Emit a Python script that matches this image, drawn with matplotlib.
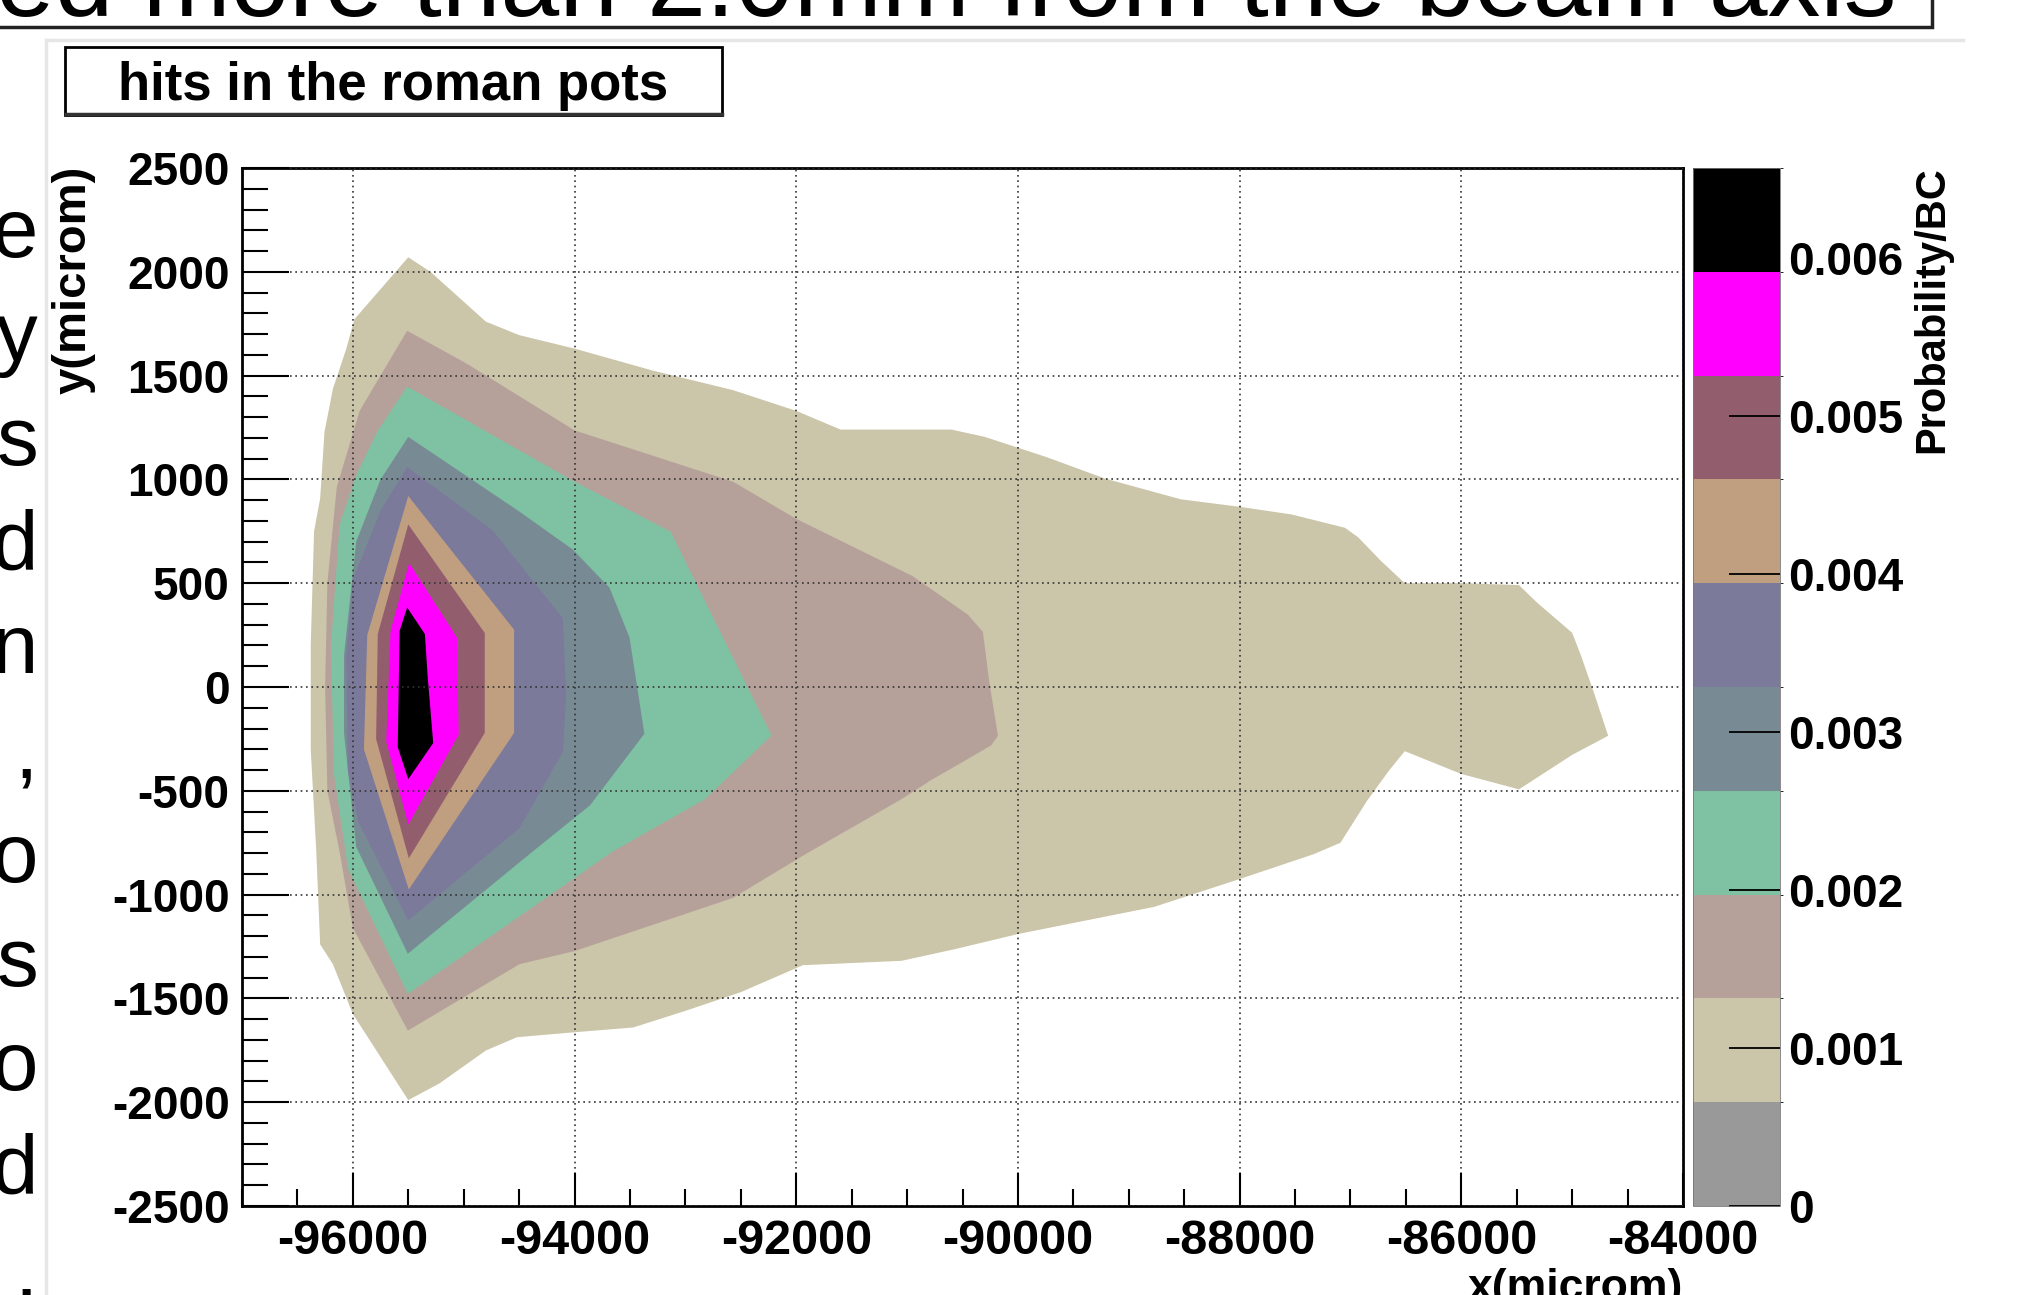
import numpy as np
import matplotlib
matplotlib.use("Agg")
import matplotlib.pyplot as plt
from matplotlib.colors import ListedColormap, BoundaryNorm
from matplotlib.cm import ScalarMappable
from matplotlib.patches import Rectangle
from matplotlib.ticker import MultipleLocator

plt.rcParams['font.family'] = ['Liberation Sans', 'DejaVu Sans']
plt.rcParams['font.weight'] = 'bold'
plt.rcParams['axes.unicode_minus'] = False

W, H = 2023, 1295

# contour levels (Probability/BC), 10 bands from 0 to max
levels = [0, 0.000657, 0.001314, 0.001971, 0.002628, 0.003285,
          0.003942, 0.004599, 0.005256, 0.005913, 0.00657]
band_colors = ['#999999', '#cbc5a9', '#b6a19a', '#7fc2a3', '#788b95',
               '#7b7a9b', '#c09e80', '#925e6d', '#ff00ff', '#000000']
cbar_ticks = [0, 0.001, 0.002, 0.003, 0.004, 0.005, 0.006]
cbar_labels = ['0', '0.001', '0.002', '0.003', '0.004', '0.005', '0.006']

# contour outlines (x, y in microm), outer -> inner
lvl1 = [(-95500, 2070), (-95300, 2000), (-94800, 1760), (-94500, 1695),
        (-94000, 1630), (-93300, 1525), (-92570, 1430), (-92000, 1330),
        (-91600, 1240), (-90600, 1240), (-90300, 1205), (-89740, 1107),
        (-89220, 1005), (-88530, 904), (-88000, 868), (-87530, 831),
        (-87050, 767), (-86930, 721), (-86730, 610), (-86510, 500),
        (-86000, 500), (-85480, 491), (-85320, 408), (-85000, 261),
        (-84920, 151), (-84800, -33), (-84675, -235), (-85000, -327),
        (-85480, -493), (-86000, -419), (-86510, -309), (-86650, -401),
        (-86850, -548), (-87090, -750), (-87330, -805), (-88000, -925),
        (-88770, -1059), (-90000, -1190), (-90570, -1263), (-91050, -1319),
        (-91940, -1340), (-92500, -1470), (-93000, -1560), (-93470, -1640),
        (-94000, -1663), (-94520, -1687), (-94800, -1751), (-95220, -1910),
        (-95500, -1990), (-96000, -1575), (-96180, -1335), (-96295, -1240),
        (-96330, -790), (-96380, -300), (-96380, 200), (-96350, 750),
        (-96295, 908), (-96256, 1228), (-96180, 1436), (-96060, 1628),
        (-95985, 1772)]
lvl2 = [(-95510, 1716), (-94980, 1560), (-94000, 1236), (-92570, 989),
        (-92000, 810), (-90950, 534), (-90450, 348), (-90316, 265),
        (-90256, 15), (-90180, -235), (-90241, -281), (-90511, -365),
        (-90782, -448), (-91053, -541), (-91900, -800), (-92570, -1016),
        (-94000, -1272), (-94496, -1335), (-95504, -1655), (-96000, -1160),
        (-96120, -792), (-96230, -500), (-96250, 0), (-96230, 500),
        (-96145, 963), (-95938, 1331)]
lvl3 = [(-95510, 1447), (-94016, 994), (-93133, 748), (-92223, -233),
        (-92821, -540), (-93654, -792), (-95504, -1479), (-96042, -877),
        (-96171, -417), (-96197, 196), (-96120, 779), (-95964, 1025),
        (-95780, 1230)]
lvl4 = [(-95500, 1205), (-94500, 846), (-94015, 662), (-93684, 478),
        (-93504, 239), (-93370, -225), (-93860, -570), (-94376, -792),
        (-95504, -1285), (-95970, -770), (-96080, -220), (-96080, 150),
        (-95970, 700), (-95750, 1000)]
lvl5 = [(-95510, 1060), (-94737, 754), (-94105, 331), (-94075, -37),
        (-94105, -312), (-94496, -680), (-95500, -1125), (-95950, -650),
        (-96045, -404), (-96060, 147), (-96000, 515), (-95750, 850)]
lvl6 = [(-95500, 920), (-94545, 276), (-94545, -221), (-95495, -975),
        (-95900, -300), (-95870, 250)]
lvl7 = [(-95500, 783), (-94810, 260), (-94810, -221), (-95495, -825),
        (-95790, -250), (-95775, 255)]
lvl8 = [(-95492, 597), (-95060, 238), (-95045, -230), (-95500, -662),
        (-95699, -262), (-95660, 270)]
lvl9 = [(-95510, 383), (-95350, 255), (-95325, 50), (-95275, -270),
        (-95500, -444), (-95595, -290), (-95578, 270)]
outlines = [lvl1, lvl2, lvl3, lvl4, lvl5, lvl6, lvl7, lvl8, lvl9]

# slide text fragments cut by the screenshot
side_letters = ['e', 'y', 's', 'd', 'n', ',', 'o', 's', 'o', 'd', '.']
top_line = "ed more than 2.0mm from the beam axis"


def fx(px):
    return px / W


def fy(py):
    return 1 - py / H


fig = plt.figure(figsize=(W / 100, H / 100), dpi=100)
fig.patch.set_facecolor('white')

# faint ROOT canvas border
fig.add_artist(plt.Line2D([fx(46), fx(46)], [fy(40), 0], color='#e6e6e6', lw=2.5))
fig.add_artist(plt.Line2D([fx(46), fx(1963)], [fy(40), fy(40)], color='#e6e6e6', lw=2.5))

ax = fig.add_axes([fx(242), fy(1206), (1683 - 242) / W, (1206 - 168) / H])
for i, pts in enumerate(outlines):
    xs = [p[0] for p in pts]
    ys = [p[1] for p in pts]
    ax.fill(xs, ys, color=band_colors[i + 1], lw=0, zorder=1)

ax.set_xlim(-97000, -84000)
ax.set_ylim(-2500, 2500)
ax.xaxis.set_major_locator(MultipleLocator(2000))
ax.xaxis.set_minor_locator(MultipleLocator(500))
ax.yaxis.set_major_locator(MultipleLocator(500))
ax.yaxis.set_minor_locator(MultipleLocator(100))
ax.xaxis.set_major_formatter(plt.FuncFormatter(lambda v, p: '%d' % v))
ax.yaxis.set_major_formatter(plt.FuncFormatter(lambda v, p: '%d' % v))
ax.set_axisbelow(False)
ax.grid(True, which='major', ls=(0, (1, 2.2)), color='#333333', lw=1.2)
ax.tick_params(axis='x', which='major', direction='in', length=24, width=1.5,
               labelsize=35, pad=9, top=False)
ax.tick_params(axis='x', which='minor', direction='in', length=12, width=1.5, top=False)
ax.tick_params(axis='y', which='major', direction='in', length=34, width=1.5,
               labelsize=33, pad=9, right=False)
ax.tick_params(axis='y', which='minor', direction='in', length=19, width=1.5, right=False)
for s in ax.spines.values():
    s.set_linewidth(2)

# palette (colour scale)
cax = fig.add_axes([fx(1693), fy(1206), 87 / W, (1206 - 168) / H])
sm = ScalarMappable(norm=BoundaryNorm(levels, 10), cmap=ListedColormap(band_colors))
cb = fig.colorbar(sm, cax=cax, spacing='proportional')
cb.set_ticks(cbar_ticks)
cb.set_ticklabels(cbar_labels)
cb.outline.set_linewidth(0.6)
cb.outline.set_edgecolor('#777777')
cax.tick_params(direction='in', length=37, width=1.3, color='black',
                labelsize=33, pad=6)

# axis titles
fig.text(fx(74), fy(166), 'y(microm)', rotation=90, ha='center', va='top', fontsize=34)
fig.text(fx(1683), fy(1268), 'x(microm)', ha='right', va='top', fontsize=32)
fig.text(fx(1932), fy(166), 'Probability/BC', rotation=90, ha='center', va='top', fontsize=30)

# histogram title box
fig.add_artist(Rectangle((fx(65), fy(115)), (722 - 65) / W, (115 - 47) / H,
                         transform=fig.transFigure, fill=False, lw=2, ec='black'))
fig.add_artist(plt.Line2D([fx(66), fx(722)], [fy(114), fy(114)], color='#333333', lw=2.5))
fig.text(fx(393), fy(100), 'hits in the roman pots', ha='center', va='baseline', fontsize=38)

# slide elements around the screenshot
fig.add_artist(Rectangle((fx(-10), fy(27)), (1932 + 10) / W, 40 / H,
                         transform=fig.transFigure, fill=False, lw=2.5, ec='#222222'))
fig.text(fx(1896), fy(16), top_line, ha='right', va='baseline', fontsize=76,
         family=['Liberation Sans', 'DejaVu Sans'], weight='normal')
for k, ch in enumerate(side_letters):
    fig.text(fx(38), fy(257 + k * 104.1), ch, ha='right', va='baseline', fontsize=60,
             family=['Liberation Sans', 'DejaVu Sans'], weight='normal')

fig.savefig('out.png', dpi=100)
